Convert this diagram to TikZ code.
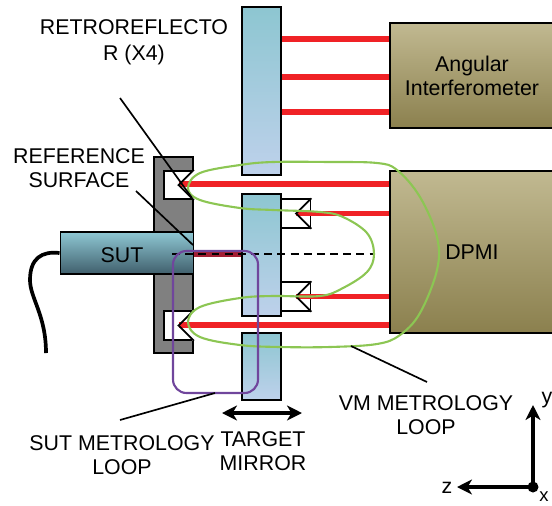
\documentclass[tikz,border=0pt]{standalone}
\usepackage{fontspec}
\usetikzlibrary{arrows.meta}
\setmainfont{Liberation Sans}
\definecolor{mirrortop}{HTML}{8DC6D1}
\definecolor{mirrorbot}{HTML}{BED1EB}
\definecolor{boxtop}{HTML}{C1B991}
\definecolor{boxbot}{HTML}{8B804E}
\definecolor{suttop}{HTML}{8EC7D3}
\definecolor{sutbot}{HTML}{405F6C}
\definecolor{beamred}{HTML}{F02226}
\definecolor{beamdark}{HTML}{A31F33}
\definecolor{loopgreen}{HTML}{8CC653}
\definecolor{looppurple}{HTML}{70469C}
\begin{document}
\begin{tikzpicture}[x=0.02cm, y=-0.02cm, >={Stealth[length=0.3cm, width=0.3cm, inset=0.09cm]}, font=\fontsize{12.15}{13.7}\selectfont,
          mirror/.style={draw, line width=1.1pt, top color=mirrortop, bottom color=mirrorbot, minimum width=0.78cm, inner sep=0pt},
          instrument/.style={draw, line width=1.1pt, top color=boxtop, bottom color=boxbot, minimum width=3.28cm, inner sep=0pt, align=center},
          retro/.style={draw, line width=1.1pt, fill=white, minimum width=0.58cm, minimum height=0.57cm, inner sep=0pt},
          beam/.style={beamred, line width=3.1pt},
          wedge/.style={line width=1pt},
          leader/.style={line width=0.95pt},
          greenloop/.style={loopgreen, line width=1.2pt},
          axis/.style={->, line width=1.9pt},
          caption/.style={align=center, inner sep=0pt}]
        \useasboundingbox (0,0) rectangle (552,505);
        \node[draw, line width=1.1pt, fill=gray, minimum width=0.78cm, minimum height=3.92cm, inner sep=0pt] (plate) at (173.5,255) {};
        \node[retro] (retroa) at (178.5,185) {};
        \node[retro] (retrob) at (178.5,325.5) {};
        \node[retro] (retroc) at (296,213.5) {};
        \node[retro] (retrod) at (296,296.5) {};
        \draw[white, line width=2.2pt] (retroa.north east) -- (retroa.south east);
        \draw[white, line width=2.2pt] (retrob.north east) -- (retrob.south east);
        \node[mirror, minimum height=3.36cm] (uppermirror) at (261.5,91) {};
        \node[mirror, minimum height=2.44cm] (midmirror) at (261.5,255) {};
        \node[mirror, minimum height=1.34cm] (lowmirror) at (261.5,366.5) {};
        \node[instrument, minimum height=2.1cm] (angular) at (472,75.5) {Angular\\Interferometer};
        \node[instrument, minimum height=3.24cm] (dpmi) at (472,252) {DPMI};
        \node[draw, line width=1.1pt, top color=suttop, bottom color=sutbot, minimum width=2.66cm, minimum height=0.84cm, inner sep=0pt] (sut) at (127,253) {};
        \node (suttext) at (122,255) {SUT};
        \coordinate (cableend) at (46,353);
        \draw[line width=2.1pt] (sut.west) .. controls (42,251) and (30,258) .. (30,280) .. controls (30,298) and (46,315) .. (cableend);
        \foreach \y in {39,77,112}
          \draw[beam] (uppermirror.east |- 0,\y) -- (angular.west |- 0,\y);
        \draw[beam] (retroa.center |- 0,184) -- (dpmi.west |- 0,184);
        \draw[beam] (retrob.center |- 0,325) -- (dpmi.west |- 0,325);
        \draw[beam] (retroc.center) -- (dpmi.west |- retroc.center);
        \draw[beam] (retrod.center) -- (dpmi.west |- retrod.center);
        \draw[wedge] (retroa.north east) -- (retroa.center) -- (retroa.south east);
        \draw[wedge] (retrob.north east) -- (retrob.center) -- (retrob.south east);
        \draw[wedge] (retroc.north east) -- (retroc.center) -- (retroc.south east);
        \draw[wedge] (retrod.north east) -- (retrod.center) -- (retrod.south east);
        \draw[beamdark, line width=3.1pt] (sut.east |- 0,254) -- (midmirror.west |- 0,254);
        \coordinate (focus) at (374,254);
        \draw[line width=0.9pt, dash pattern=on 4.5pt off 3pt] (172,254) -- (focus);
        \draw[greenloop] plot[smooth cycle, tension=0.6] coordinates {(188,188) (200,173) (240,165) (273,162) (330,162) (377,163) (397,170) (420,197) (437,237) (437,270) (420,313) (400,335) (377,344) (330,347) (280,347) (240,345) (200,337) (188,322) (200,307) (240,298) (273,296) (320,296) (343,288) (367,272) (374,254) (367,233) (343,217) (320,212) (273,210) (240,208) (200,200)};
        \draw[looppurple, line width=1.2pt, rounded corners=0.27cm] (173,251) rectangle (258,393);
        \coordinate (retroleadera) at (120,98);
        \coordinate (retroleaderb) at (192,198);
        \coordinate (refleadera) at (136,191);
        \coordinate (refleaderb) at (193,245);
        \coordinate (sutleadera) at (120,420);
        \coordinate (sutleaderb) at (215,393);
        \coordinate (vmleadera) at (351,346);
        \coordinate (vmleaderb) at (427,382);
        \draw[leader] (retroleadera) -- (retroleaderb);
        \draw[leader] (refleadera) -- (refleaderb);
        \draw[leader] (sutleadera) -- (sutleaderb);
        \draw[leader] (vmleadera) -- (vmleaderb);
        \node[caption] (retrolabel) at (134,42) {RETROREFLECTO\\[1pt]R (X4)};
        \node[caption] (reflabel) at (79,168.5) {REFERENCE\\SURFACE};
        \node[caption] (sutlabel) at (122,455) {SUT METROLOGY\\LOOP};
        \node[caption] (targetlabel) at (263,451) {TARGET\\MIRROR};
        \node[caption] (vmlabel) at (426,415) {VM METROLOGY\\LOOP};
        \coordinate (traveleast) at (302,413);
        \coordinate (travelwest) at (222,413);
        \draw[<->, line width=1.9pt] (travelwest) -- (traveleast);
        \node[circle, fill=black, minimum size=0.22cm, inner sep=0pt] (origin) at (533,487) {};
        \node[inner sep=0pt] (ylabel) at (547,400) {y};
        \node[inner sep=0pt] (zlabel) at (447,488) {z};
        \node[inner sep=0pt, font=\fontsize{10.5}{12}\selectfont] (xlabel) at (544,497) {x};
        \coordinate (ytip) at (533,405);
        \coordinate (ztip) at (457,487);
        \draw[axis] (origin.center) -- (ytip);
        \draw[axis] (origin.center) -- (ztip);
      \end{tikzpicture}
\end{document}
